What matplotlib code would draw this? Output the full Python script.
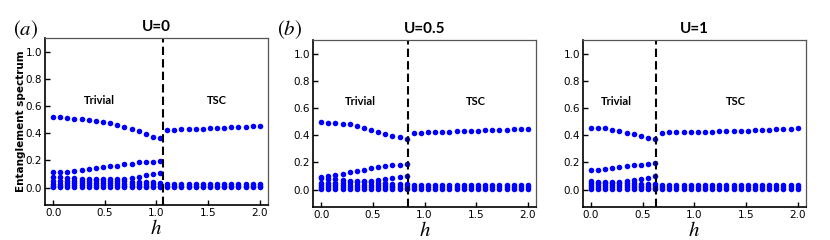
import numpy as np
import matplotlib
matplotlib.use('Agg')
import matplotlib.pyplot as plt

plt.rcParams['mathtext.fontset'] = 'stix'

# h grid (30 points between 0 and 2)
h = np.linspace(0, 2, 30)

titles = ['U=0', 'U=0.5', 'U=1']
labels = ['$(a)$', '$(b)$', '']
h_c = [1.065, 0.84, 0.627]          # transition line
n_triv = [16, 13, 10]               # points in trivial phase

# upper branches in the trivial phase
top_triv = [
    [0.517, 0.517, 0.513, 0.507, 0.505, 0.500, 0.493, 0.485, 0.478, 0.463, 0.450, 0.434, 0.414, 0.394, 0.374, 0.362],
    [0.495, 0.493, 0.490, 0.486, 0.480, 0.470, 0.456, 0.442, 0.426, 0.410, 0.395, 0.384, 0.372],
    [0.456, 0.455, 0.450, 0.441, 0.431, 0.420, 0.406, 0.391, 0.380, 0.372],
]
second_triv = [
    [0.114, 0.114, 0.118, 0.123, 0.131, 0.136, 0.143, 0.151, 0.158, 0.162, 0.173, 0.177, 0.185, 0.190, 0.192, 0.197],
    [0.095, 0.100, 0.106, 0.116, 0.126, 0.136, 0.146, 0.156, 0.164, 0.171, 0.178, 0.184, 0.189],
    [0.145, 0.147, 0.152, 0.158, 0.165, 0.172, 0.178, 0.183, 0.188, 0.194],
]
third_triv = [
    [0.078, 0.076, 0.072, 0.068, 0.065, 0.063, 0.061, 0.060, 0.060, 0.062, 0.066, 0.072, 0.080, 0.090, 0.100, 0.108],
    [0.085, 0.080, 0.075, 0.070, 0.065, 0.062, 0.060, 0.063, 0.070, 0.078, 0.087, 0.095, 0.102],
    [0.060, 0.058, 0.056, 0.055, 0.057, 0.062, 0.070, 0.078, 0.087, 0.096],
]
# dense low-lying levels in the trivial phase
low_triv = [
    [[0.046, 0.046, 0.047, 0.048, 0.050, 0.052, 0.053, 0.052, 0.050, 0.048, 0.046, 0.044, 0.042, 0.040, 0.038, 0.036],
     [0.030, 0.030, 0.031, 0.032, 0.033, 0.034, 0.034, 0.033, 0.032, 0.031, 0.030, 0.029, 0.028, 0.027, 0.026, 0.025],
     [0.015, 0.015, 0.016, 0.016, 0.017, 0.017, 0.017, 0.017, 0.016, 0.016, 0.015, 0.015, 0.014, 0.014, 0.013, 0.013],
     [0.003, 0.003, 0.003, 0.003, 0.003, 0.003, 0.003, 0.003, 0.003, 0.003, 0.003, 0.003, 0.003, 0.003, 0.003, 0.003]],
    [[0.045, 0.046, 0.048, 0.050, 0.053, 0.055, 0.054, 0.052, 0.049, 0.046, 0.043, 0.040, 0.038],
     [0.030, 0.030, 0.031, 0.032, 0.034, 0.035, 0.034, 0.033, 0.031, 0.030, 0.029, 0.027, 0.026],
     [0.015, 0.015, 0.016, 0.016, 0.017, 0.017, 0.017, 0.016, 0.016, 0.015, 0.015, 0.014, 0.013],
     [0.003, 0.003, 0.003, 0.003, 0.003, 0.003, 0.003, 0.003, 0.003, 0.003, 0.003, 0.003, 0.003]],
    [[0.045, 0.046, 0.047, 0.048, 0.049, 0.048, 0.046, 0.044, 0.041, 0.038],
     [0.030, 0.030, 0.031, 0.032, 0.033, 0.032, 0.031, 0.029, 0.027, 0.026],
     [0.015, 0.015, 0.016, 0.016, 0.017, 0.016, 0.016, 0.015, 0.014, 0.013],
     [0.003, 0.003, 0.003, 0.003, 0.003, 0.003, 0.003, 0.003, 0.003, 0.003]],
]
# upper branch in the TSC phase
top_tsc = [
    [0.422, 0.426, 0.429, 0.431, 0.433, 0.435, 0.437, 0.439, 0.441, 0.443, 0.446, 0.449, 0.452, 0.454],
    [0.418, 0.420, 0.422, 0.424, 0.425, 0.427, 0.428, 0.430, 0.431, 0.433, 0.435, 0.437, 0.439, 0.442, 0.445, 0.447, 0.449],
    [0.420, 0.421, 0.422, 0.423, 0.424, 0.425, 0.426, 0.427, 0.428, 0.429, 0.430, 0.432, 0.434, 0.436, 0.438, 0.440, 0.443, 0.446, 0.449, 0.452],
]
# low levels in the TSC phase (three rows, nearly flat)
tsc_rows = [0.030, 0.015, 0.002]

lefts = [0.054, 0.377, 0.702]
bottoms = [0.146, 0.138, 0.138]

fig = plt.figure(figsize=(8.3, 2.4), dpi=100)
blue = '#0000ff'

for i in range(3):
    ax = fig.add_axes([lefts[i], bottoms[i], 0.269, 0.696])
    nt = n_triv[i]
    ht = h[:nt]
    hs = h[nt:]
    kw = dict(ls='none', marker='o', ms=4.0, color=blue, mec='none')
    ax.plot(ht, top_triv[i], **kw)
    ax.plot(ht, second_triv[i], **kw)
    ax.plot(ht, third_triv[i], **kw)
    for row in low_triv[i]:
        ax.plot(ht, row, **kw)
    ax.plot(hs, top_tsc[i], **kw)
    for v in tsc_rows:
        ax.plot(hs, [v] * len(hs), **kw)

    ax.axvline(h_c[i], color='black', ls=(0, (4, 2.0)), lw=1.5)

    ax.set_xlim(-0.08, 2.08)
    ax.set_ylim(-0.128, 1.103)
    ax.set_xticks([0.0, 0.5, 1.0, 1.5, 2.0])
    ax.set_yticks([0.0, 0.2, 0.4, 0.6, 0.8, 1.0])
    ax.tick_params(direction='in', length=3.5, width=1, labelsize=7.5, pad=2)
    for s in ['left', 'bottom']:
        ax.spines[s].set_color('black')
        ax.spines[s].set_linewidth(1.2)
    for s in ['top', 'right']:
        ax.spines[s].set_color('#555555')
        ax.spines[s].set_linewidth(0.9)

    ax.set_title(titles[i], fontsize=11, fontweight='bold', family='Lato', pad=5)
    ax.set_xlabel('$h$', fontsize=15, labelpad=0)

    x_triv = [0.45, 0.376, 0.245][i]
    x_tsc = [1.58, 1.50, 1.40][i]
    ax.text(x_triv, 0.645, 'Trivial', ha='center', va='center', fontsize=8, fontweight='bold', family='Lato')
    ax.text(x_tsc, 0.645, 'TSC', ha='center', va='center', fontsize=8, fontweight='bold', family='Lato')

    if i == 0:
        ax.set_ylabel('Entanglement spectrum', fontsize=7.5, fontweight='bold', labelpad=0)

fig.text(0.016, 0.855, labels[0], fontsize=15)
fig.text(0.334, 0.855, labels[1], fontsize=15)

fig.savefig('out.png', dpi=100)
